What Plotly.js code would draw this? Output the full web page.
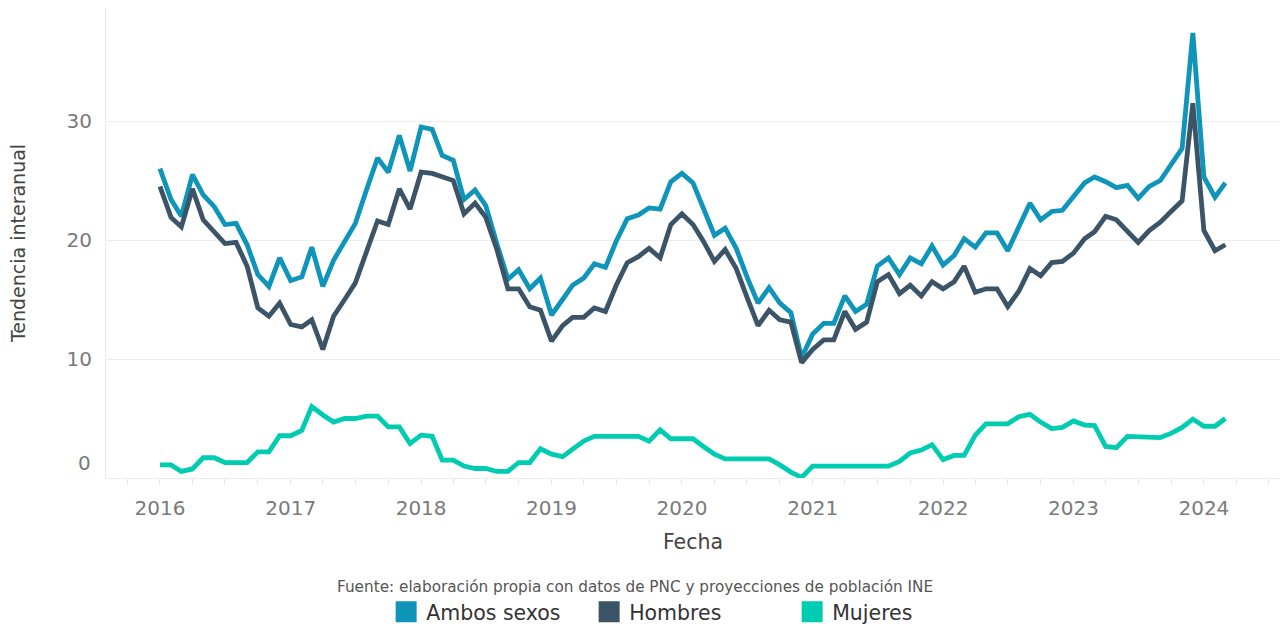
<!DOCTYPE html>
<html>
<head>
<meta charset="utf-8">
<script src="https://cdn.plot.ly/plotly-3.0.1.min.js"></script>
<style>html,body{margin:0;padding:0;background:#fff}#chart{width:1281px;height:628px}</style>
</head>
<body>
<div id="chart"></div>
<script>
// Monthly series, January 2016 to March 2024
const startYear = 2016, startMonth = 1, nMonths = 99;
const fechas = [];
for (let k = 0; k < nMonths; k++) {
  const m = (startMonth - 1 + k);
  const y = startYear + Math.floor(m / 12);
  const mm = (m % 12) + 1;
  fechas.push(y + '-' + String(mm).padStart(2, '0') + '-01');
}

const ambosSexos = [
  26.0, 23.4, 22.0, 25.5, 23.8, 22.8, 21.3, 21.4, 19.6, 17.1, 16.1, 18.5,
  16.6, 16.9, 19.4, 16.1, 18.3, 19.9, 21.4, 24.2, 26.9, 25.7, 28.8, 25.8,
  29.5, 29.3, 27.1, 26.7, 23.4, 24.2, 22.9, 19.7, 16.7, 17.5, 15.9, 16.8,
  13.7, 15.0, 16.2, 16.8, 18.0, 17.7, 19.9, 21.8, 22.1, 22.7, 22.6, 24.9,
  25.6, 24.8, 22.7, 20.4, 21.0, 19.3, 16.9, 14.7, 16.0, 14.7, 13.9, 10.1,
  12.1, 13.0, 13.0, 15.3, 14.0, 14.6, 17.8, 18.5, 17.1, 18.5, 18.0, 19.5,
  17.9, 18.7, 20.1, 19.4, 20.6, 20.6, 19.1, 21.1, 23.1, 21.7, 22.4, 22.5,
  23.6, 24.8, 25.3, 24.9, 24.4, 24.6, 23.5, 24.5, 25.0, 26.4, 27.7, 37.4,
  25.3, 23.6, 24.8
];
const hombres = [
  24.5, 21.9, 21.1, 24.3, 21.7, 20.7, 19.7, 19.8, 17.8, 14.3, 13.6, 14.7,
  12.9, 12.7, 13.3, 10.8, 13.6, 15.0, 16.4, 19.0, 21.6, 21.3, 24.3, 22.6,
  25.7, 25.6, 25.3, 25.0, 22.2, 23.1, 21.9, 19.2, 15.9, 15.9, 14.4, 14.1,
  11.5, 12.8, 13.5, 13.5, 14.3, 14.0, 16.2, 18.1, 18.6, 19.3, 18.5, 21.3,
  22.2, 21.3, 19.9, 18.2, 19.2, 17.6, 15.2, 12.8, 14.1, 13.3, 13.1, 9.7,
  10.8, 11.6, 11.6, 14.0, 12.5, 13.1, 16.5, 17.1, 15.5, 16.2, 15.3, 16.5,
  15.9, 16.5, 17.8, 15.6, 15.9, 15.9, 14.4, 15.7, 17.6, 17.0, 18.1, 18.2,
  18.9, 20.1, 20.7, 22.0, 21.7, 20.8, 19.8, 20.8, 21.5, 22.4, 23.3, 31.5,
  20.8, 19.1, 19.6
];
const mujeres = [
  1.1, 1.1, 0.55, 0.76, 1.7, 1.7, 1.3, 1.3, 1.3, 2.2, 2.2, 3.55,
  3.55, 4.0, 6.0, 5.3, 4.7, 5.0, 5.0, 5.2, 5.2, 4.3, 4.3, 2.9,
  3.6, 3.5, 1.5, 1.5, 1.0, 0.8, 0.8, 0.55, 0.55, 1.3, 1.3, 2.45,
  2.0, 1.8, 2.45, 3.1, 3.5, 3.5, 3.5, 3.5, 3.5, 3.1, 4.05, 3.3,
  3.3, 3.3, 2.65, 2.0, 1.6, 1.6, 1.6, 1.6, 1.6, 1.1, 0.5, 0.05,
  1.0, 1.0, 1.0, 1.0, 1.0, 1.0, 1.0, 1.0, 1.4, 2.1, 2.35, 2.8,
  1.55, 1.9, 1.9, 3.6, 4.55, 4.55, 4.55, 5.15, 5.35, 4.7, 4.15, 4.25,
  4.8, 4.45, 4.4, 2.65, 2.55, 3.5, 3.5, 3.5, 3.4, 3.75, 4.25, 4.95,
  4.35, 4.35, 5.0
];

const seriesNames = ['Ambos sexos', 'Hombres', 'Mujeres'];
const seriesColors = ['#0e95b9', '#3b5467', '#00ccb1'];
const seriesValues = [ambosSexos, hombres, mujeres];
const yTicks = [0, 10, 20, 30];
const yTickText = ['', '10', '20', '30'];
const xTicks = ['2016-01-01','2017-01-01','2018-01-01','2019-01-01','2020-01-01','2021-01-01','2022-01-01','2023-01-01','2024-01-01'];
const xTickText = ['2016','2017','2018','2019','2020','2021','2022','2023','2024'];

const traces = [];
seriesNames.forEach((name, k) => {
  traces.push({
    type: 'scatter', mode: 'lines', name: name, x: fechas, y: seriesValues[k],
    line: {color: seriesColors[k], width: 4.8}, showlegend: false, legendgroup: name
  });
});
seriesNames.forEach((name, k) => {
  traces.push({
    type: 'scatter', mode: 'markers', name: name, x: [null], y: [null],
    marker: {symbol: 'square', size: 16, color: seriesColors[k], line: {color: seriesColors[k], width: 5}},
    showlegend: true, legendgroup: name, hoverinfo: 'skip'
  });
});

const layout = {
  width: 1281, height: 628,
  margin: {l: 106, r: 1, t: 8, b: 150, autoexpand: false},
  paper_bgcolor: '#ffffff', plot_bgcolor: '#ffffff',
  font: {family: 'DejaVu Sans, sans-serif', color: '#444'},
  xaxis: {
    type: 'date', range: ['2015-08-03', '2024-08-01'],
    tickvals: xTicks, ticktext: xTickText,
    tickfont: {size: 20, color: '#7a7a7a'},
    showgrid: false, zeroline: false,
    showline: true, linecolor: '#ececec', linewidth: 1,
    ticks: 'outside', ticklen: 5, tickcolor: '#e6e6e6', ticklabelstandoff: 7,
    minor: {dtick: 'M3', tick0: '2016-01-01', ticks: 'outside', ticklen: 5, tickcolor: '#e6e6e6', showgrid: false},
    title: {text: 'Fecha', font: {size: 20.5, color: '#444'}, standoff: 15}
  },
  yaxis: {
    range: [0, 39.5], tickvals: yTicks, ticktext: yTickText,
    tickfont: {size: 20, color: '#7a7a7a'},
    showgrid: true, gridcolor: '#ededed', gridwidth: 1,
    zeroline: false, showline: true, linecolor: '#ececec', linewidth: 1,
    ticks: '', ticklabelstandoff: 9,
    title: {text: 'Tendencia interanual', font: {size: 19, color: '#444'}, standoff: 35}
  },
  showlegend: true,
  legend: {
    orientation: 'h', xref: 'paper', x: 0.498, xanchor: 'center',
    yref: 'container', y: 0.0255, yanchor: 'middle',
    font: {size: 20.5, color: '#333'}, entrywidth: 158, itemsizing: 'trace',
    bgcolor: 'rgba(0,0,0,0)'
  },
  annotations: [
    {xref: 'paper', yref: 'y', x: 0, y: 0, xanchor: 'right', yanchor: 'middle', xshift: -13, yshift: 15,
     text: '0', showarrow: false, font: {size: 20, color: '#7a7a7a'}},
    {xref: 'paper', yref: 'paper', x: 0.4506, y: -0.2319, xanchor: 'center', yanchor: 'middle',
     text: 'Fuente: elaboración propia con datos de PNC y proyecciones de población INE',
     showarrow: false, font: {size: 15.25, color: '#555'}}
  ]
};

Plotly.newPlot('chart', traces, layout, {displayModeBar: false, staticPlot: true});
</script>
</body>
</html>
